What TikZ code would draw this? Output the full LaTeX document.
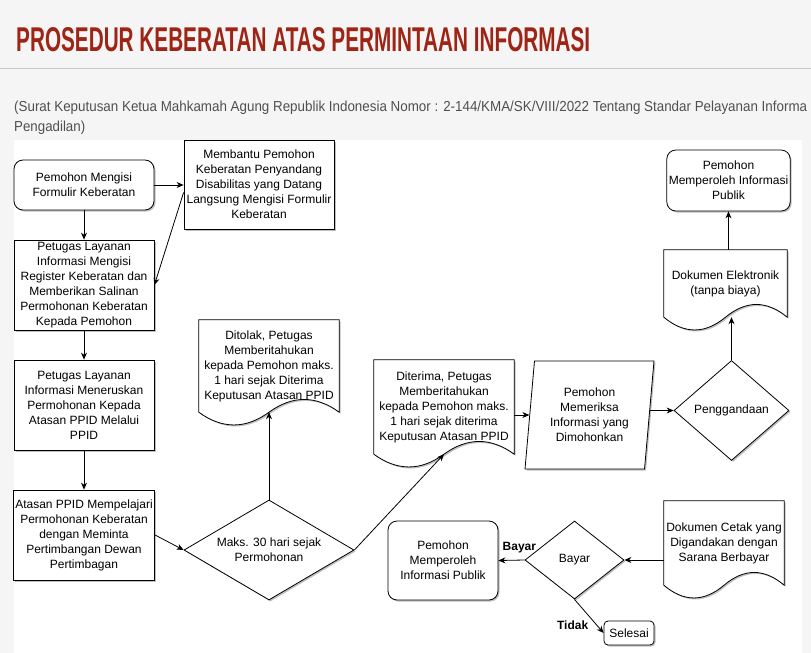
\documentclass[tikz,border=0pt]{standalone}
\usepackage{fontspec}
\setmainfont{Liberation Sans}
\usetikzlibrary{shapes.geometric,arrows.meta,calc,shadows,backgrounds}

\definecolor{judulmerah}{RGB}{158,36,22}
\definecolor{teksabu}{RGB}{80,80,80}
\definecolor{latarabu}{RGB}{245,245,245}
\definecolor{garisabu}{RGB}{200,200,200}

\tikzset{
  teks/.style={align=center,font=\fontsize{12}{15}\selectfont},
  bayang/.style={drop shadow={shadow xshift=1.5pt,shadow yshift=-1.5pt,opacity=.25,fill=black}},
  kotak/.style={teks,draw,fill=white,bayang,line width=0.8pt,inner sep=2pt},
  bulat/.style={kotak,rounded corners=9pt},
  belah/.style={teks,diamond,draw,fill=white,bayang,line width=0.8pt,inner sep=0pt},
  jajar/.style={teks,trapezium,trapezium left angle=80,trapezium right angle=100,
    trapezium stretches body,draw,fill=white,bayang,line width=0.8pt,inner sep=0pt},
  surat/.style={teks,inner sep=0pt},
  garis/.style={line width=0.8pt},
  panah/.style={line width=0.8pt,-{Stealth[length=7pt,width=6pt]}},
  label/.style={font=\fontsize{12}{15}\selectfont\bfseries}
}

% lembar dokumen dengan tepi bawah bergelombang
\newcommand\kertas[1]{%
  \begin{scope}[on background layer]
    \draw[garis,fill=white,bayang] let \p1=(#1.north west), \p2=(#1.south east),
      \n1={(\x2-\x1)/6}, \n2={(\x1+\x2)/2} in
      (\x1,\y1) -- (\x2,\y1) -- (\x2,\y2)
      .. controls ({\x2-\n1},{\y2+17}) and ({\n2+\n1},{\y2+17}) .. ({\n2},\y2)
      .. controls ({\n2-\n1},{\y2-17}) and ({\x1+\n1},{\y2-17}) .. (\x1,\y2)
      -- cycle;
  \end{scope}}

\begin{document}
\begin{tikzpicture}[x=1pt,y=-1pt]
  \useasboundingbox (0,0) rectangle (811,653);
  \begin{scope}[on background layer]
    \fill[latarabu] (0,0) rectangle (811,653);
    \fill[white] (14,140) rectangle (802,653);
    \draw[garisabu,line width=1pt] (0,68.5) -- (811,68.5);
  \end{scope}

  % judul dan rujukan
  \node[anchor=base west,inner sep=0pt,text=judulmerah] (judul) at (16,52)
    {\resizebox{574pt}{24pt}{\bfseries PROSEDUR KEBERATAN ATAS PERMINTAAN INFORMASI}};
  \node[anchor=base west,inner sep=0pt,text=teksabu] (rujukan) at (14,111)
    {\resizebox{793pt}{10.5pt}{(Surat Keputusan Ketua Mahkamah Agung Republik Indonesia Nomor : 2-144/KMA/SK/VIII/2022 Tentang Standar Pelayanan Informa}};
  \node[anchor=base west,inner sep=0pt,text=teksabu] (rujukan2) at (14,131)
    {\resizebox{71pt}{10.5pt}{Pengadilan)}};

  % kolom kiri
  \node[bulat,minimum width=140pt,minimum height=50pt] (isi) at (84,185)
    {Pemohon Mengisi\\Formulir Keberatan};
  \node[kotak,minimum width=150pt,minimum height=89pt] (bantu) at (259,184.5)
    {Membantu Pemohon\\Keberatan Penyandang\\Disabilitas yang Datang\\Langsung Mengisi Formulir\\Keberatan};
  \node[kotak,minimum width=140pt,minimum height=90pt] (register) at (84,285)
    {Petugas Layanan\\Informasi Mengisi\\Register Keberatan dan\\Memberikan Salinan\\Permohonan Keberatan\\Kepada Pemohon};
  \node[kotak,minimum width=140pt,minimum height=90pt] (teruskan) at (84,405)
    {Petugas Layanan\\Informasi Meneruskan\\Permohonan Kepada\\Atasan PPID Melalui\\PPID};
  \node[kotak,minimum width=140pt,minimum height=90pt] (pelajari) at (84,535)
    {Atasan PPID Mempelajari\\Permohonan Keberatan\\dengan Meminta\\Pertimbangan Dewan\\Pertimbagan};

  % keputusan
  \node[belah,aspect=1.7,minimum width=170pt,minimum height=100pt] (maks) at (269,550)
    {Maks. 30 hari sejak\\Permohonan};
  \node[surat,minimum width=140pt,minimum height=92pt] (ditolak) at (269,366)
    {Ditolak, Petugas\\Memberitahukan\\kepada Pemohon maks.\\1 hari sejak Diterima\\Keputusan Atasan PPID};
  \kertas{ditolak}
  \node[surat,minimum width=140pt,minimum height=94pt] (diterima) at (444,407)
    {Diterima, Petugas\\Memberitahukan\\kepada Pemohon maks.\\1 hari sejak diterima\\Keputusan Atasan PPID};
  \kertas{diterima}
  \node[jajar,minimum width=129pt,minimum height=108pt] (periksa) at (589.5,415)
    {Pemohon\\Memeriksa\\Informasi yang\\Dimohonkan};
  \node[belah,aspect=1.15,minimum width=115pt,minimum height=100pt] (ganda) at (731.5,410.5)
    {Penggandaan};

  % kolom kanan
  \node[surat,minimum width=123pt,minimum height=67pt] (elektronik) at (725.5,283.5)
    {Dokumen Elektronik\\(tanpa biaya)};
  \kertas{elektronik}
  \node[bulat,minimum width=123pt,minimum height=61pt] (publikA) at (728.5,180.5)
    {Pemohon\\Memperoleh Informasi\\Publik};
  \node[surat,minimum width=120pt,minimum height=84pt] (cetak) at (724,543)
    {Dokumen Cetak yang\\Digandakan dengan\\Sarana Berbayar};
  \kertas{cetak}
  \node[belah,aspect=1.27,minimum width=99pt,minimum height=78pt] (bayar) at (574.5,560)
    {Bayar};
  \node[bulat,minimum width=110pt,minimum height=79pt] (publikB) at (443,560.5)
    {Pemohon\\Memperoleh\\Informasi Publik};
  \node[kotak,rounded corners=4pt,minimum width=50pt,minimum height=24pt] (selesai) at (629,633)
    {Selesai};

  % alur
  \draw[panah] (isi.east) -- (isi.east -| bantu.west);
  \draw[panah] ([yshift=-8pt]bantu.west) -- (register.east);
  \draw[panah] (isi) -- (register);
  \draw[panah] (register) -- (teruskan);
  \draw[panah] (teruskan) -- (pelajari);
  \draw[panah] (pelajari.east) -- (maks.west);
  \draw[panah] (maks.north) -- (ditolak.south);
  \draw[panah] (maks.east) -- (diterima.south);
  \draw[panah] (diterima.east |- periksa.west) -- (periksa.west);
  \draw[panah] (periksa.east |- ganda.west) -- (ganda.west);
  \draw[panah] (ganda.north) -- (ganda.north |- elektronik.south);
  \draw[panah] (publikA.south |- elektronik.north) -- (publikA.south);
  \draw[panah] (cetak.west |- bayar.east) -- (bayar.east);
  \draw[panah] (bayar.west) -- (publikB.east)
    node[label,pos=0.2,above=3pt] {Bayar};
  \draw[panah] (bayar.south) -- (selesai.west)
    node[label,pos=0.77,left=5pt] {Tidak};
\end{tikzpicture}
\end{document}
